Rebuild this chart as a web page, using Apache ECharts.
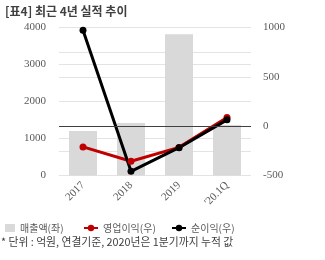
<!DOCTYPE html>
<html><head><meta charset="utf-8">
<script src="https://cdn.jsdelivr.net/npm/echarts@6/dist/echarts.min.js"></script>
<style>html,body{margin:0;padding:0;background:#fff}#c{width:325px;height:260px}</style>
</head><body><div id="c"></div>
<script>
const categories = ['2017', '2018', '2019', "'20.1Q"];
const sales = [1205, 1420, 3815, 1365];
const opProfit = [-210, -355, -215, 87];
const netProfit = [972, -458, -218, 64];
const leftTicks = [0, 4000, 1000];
const rightTicks = [-500, 1000, 250];

const chart = echarts.init(document.getElementById('c'), null, {renderer: 'canvas'});
const serif = 'Liberation Serif';
const kr = 'Noto Sans CJK KR';
const legendText = {color: '#595959', fontSize: 10, fontFamily: kr};
chart.setOption({
  animation: false,
  title: {text: '[표4] 최근 4년 실적 추이', left: 0, top: 0,
    textStyle: {fontSize: 12, fontWeight: 'bold', color: '#404040', fontFamily: kr}},
  grid: {left: 59, right: 74, top: 27.5, bottom: 84.5},
  legend: [
    {data: ['매출액(좌)'], left: 0, top: 218, itemWidth: 10, itemHeight: 8, itemGap: 4, textStyle: legendText, icon: 'rect'},
    {data: ['영업이익(우)'], left: 78, top: 218, itemWidth: 14, itemHeight: 8, textStyle: legendText},
    {data: ['순이익(우)'], left: 166, top: 218, itemWidth: 14, itemHeight: 8, textStyle: legendText}
  ],
  xAxis: {type: 'category', data: categories,
    axisLine: {show: false}, axisTick: {show: false},
    axisLabel: {rotate: 45, fontFamily: serif, fontSize: 11, color: '#595959', margin: 8}},
  yAxis: [
    {type: 'value', min: leftTicks[0], max: leftTicks[1], interval: leftTicks[2],
      axisLine: {show: false}, axisTick: {show: false},
      axisLabel: {fontFamily: serif, fontSize: 11, color: '#595959', margin: 13,
        formatter: v => String(v)},
      splitLine: {lineStyle: {color: '#e3e3e3', width: 1}}},
    {type: 'value', min: rightTicks[0], max: rightTicks[1], interval: rightTicks[2],
      axisLine: {show: false}, axisTick: {show: false},
      axisLabel: {fontFamily: serif, fontSize: 11, color: '#595959', margin: 12,
        formatter: v => (v % 500 === 0 ? String(v) : '')},
      splitLine: {lineStyle: {color: '#e3e3e3', width: 1}}}
  ],
  series: [
    {name: '매출액(좌)', type: 'bar', data: sales, barWidth: 28, yAxisIndex: 0,
      itemStyle: {color: '#d9d9d9'}},
    {name: '영업이익(우)', type: 'line', data: opProfit, yAxisIndex: 1,
      symbol: 'circle', symbolSize: 7, lineStyle: {color: '#c00000', width: 3},
      itemStyle: {color: '#c00000'},
      markLine: {silent: true, symbol: 'none', label: {show: false},
        lineStyle: {color: '#404040', width: 1.2, type: 'solid'}, data: [{yAxis: 0}]}},
    {name: '순이익(우)', type: 'line', data: netProfit, yAxisIndex: 1,
      symbol: 'circle', symbolSize: 7, lineStyle: {color: '#000', width: 3},
      itemStyle: {color: '#000'}}
  ],
  graphic: [{type: 'text', left: 1, top: 237,
    style: {text: '* 단위 : 억원, 연결기준, 2020년은 1분기까지 누적 값', fill: '#404040', fontSize: 10.8, fontFamily: kr}}]
});
</script></body></html>
